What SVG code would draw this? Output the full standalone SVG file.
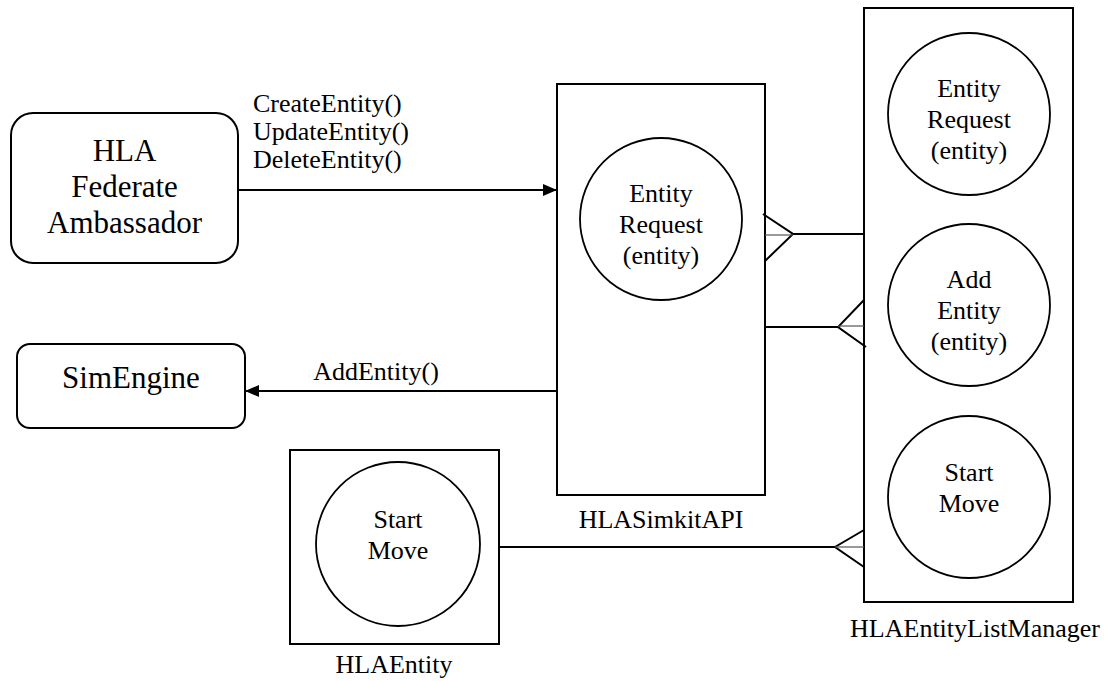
<svg xmlns="http://www.w3.org/2000/svg" width="1114" height="681" viewBox="0 0 1114 681">
<style>
.box{fill:#fff;stroke:#000;stroke-width:2}
.circ{fill:#fff;stroke:#000;stroke-width:1.8}
.t{font-family:"Liberation Serif","Times New Roman",serif;font-size:26px;fill:#000;text-anchor:middle}
.tl{font-family:"Liberation Serif","Times New Roman",serif;font-size:26px;fill:#000}
.big{font-family:"Liberation Serif","Times New Roman",serif;font-size:31px;fill:#000;text-anchor:middle}
.ln{stroke:#000;stroke-width:2;fill:none}
.thin{stroke:#555;stroke-width:1.2;fill:none}
</style>
<defs>
<marker id="arr" viewBox="0 0 14 12" refX="14" refY="6" markerWidth="14" markerHeight="12" markerUnits="userSpaceOnUse" orient="auto">
<path d="M0,0 L14,6 L0,12 Z" fill="#000"/>
</marker>
</defs>
<rect width="1114" height="681" fill="#fff"/>

<g id="federate">
<rect class="box" x="11" y="113" width="227" height="150" rx="22" ry="22"/>
<text class="big" x="124.5" y="161">HLA</text>
<text class="big" x="124.5" y="197">Federate</text>
<text class="big" x="124.5" y="233">Ambassador</text>
</g>

<g id="simengine">
<rect class="box" x="17" y="344" width="228" height="84" rx="13" ry="13"/>
<text class="big" x="131" y="388">SimEngine</text>
</g>

<g id="simkitapi">
<rect class="box" x="557" y="84" width="208" height="411"/>
<circle class="circ" cx="661" cy="219" r="81"/>
<text class="t" x="661" y="202">Entity</text>
<text class="t" x="661" y="233">Request</text>
<text class="t" x="661" y="264">(entity)</text>
<text class="t" x="661" y="528">HLASimkitAPI</text>
</g>

<g id="listmanager">
<rect class="box" x="864" y="8" width="209" height="594"/>
<circle class="circ" cx="969" cy="114" r="81"/>
<text class="t" x="969" y="97">Entity</text>
<text class="t" x="969" y="128">Request</text>
<text class="t" x="969" y="159">(entity)</text>
<circle class="circ" cx="969" cy="305" r="81"/>
<text class="t" x="969" y="288">Add</text>
<text class="t" x="969" y="319">Entity</text>
<text class="t" x="969" y="350">(entity)</text>
<circle class="circ" cx="969" cy="497" r="81"/>
<text class="t" x="969" y="481">Start</text>
<text class="t" x="969" y="512">Move</text>
<text class="t" x="975" y="637">HLAEntityListManager</text>
</g>

<g id="hlaentity">
<rect class="box" x="290" y="450" width="209" height="194"/>
<circle class="circ" cx="398" cy="544" r="82"/>
<text class="t" x="398" y="528">Start</text>
<text class="t" x="398" y="559">Move</text>
<text class="t" x="394" y="673">HLAEntity</text>
</g>

<g id="connectors">
<line class="ln" x1="238" y1="190" x2="557" y2="190" marker-end="url(#arr)"/>
<text class="tl" x="253" y="112">CreateEntity()</text>
<text class="tl" x="253" y="140">UpdateEntity()</text>
<text class="tl" x="253" y="168">DeleteEntity()</text>

<line class="ln" x1="557" y1="391" x2="245" y2="391" marker-end="url(#arr)"/>
<text class="t" x="376" y="380">AddEntity()</text>

<line class="ln" x1="793" y1="234" x2="865" y2="234"/>
<polyline class="ln" points="763,214 793,234 765,261"/>
<line class="thin" x1="765" y1="235" x2="793" y2="235"/>

<line class="ln" x1="765" y1="327" x2="838" y2="327"/>
<polyline class="ln" points="864,300 838,327 866,347"/>
<line class="thin" x1="838" y1="326" x2="864" y2="326"/>

<line class="ln" x1="499" y1="547" x2="835" y2="547"/>
<polyline class="ln" points="864,530 835,547 864,567"/>
<line class="thin" x1="835" y1="547" x2="864" y2="547"/>
</g>
</svg>
